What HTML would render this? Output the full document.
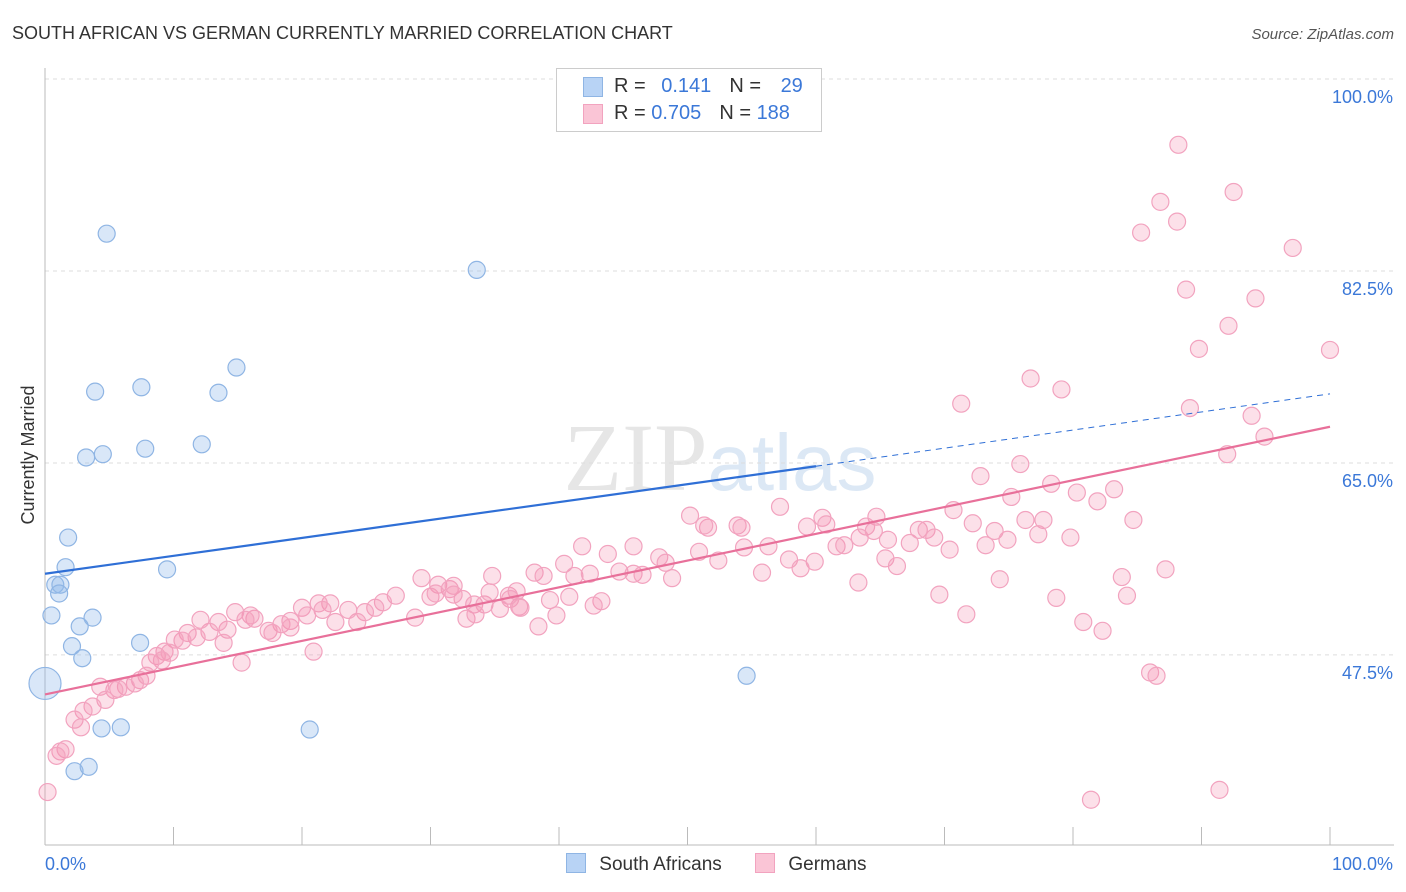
<!DOCTYPE html>
<html><head><meta charset="utf-8"><style>
body{margin:0;background:#fff;font-family:"Liberation Sans",sans-serif;}
#c{position:relative;width:1406px;height:892px;overflow:hidden;}
</style></head><body>
<div id="c">
<svg id="svg" width="1406" height="892" xmlns="http://www.w3.org/2000/svg">
<text x="12" y="39" font-size="18" fill="#333">SOUTH AFRICAN VS GERMAN CURRENTLY MARRIED CORRELATION CHART</text>
<text x="1394" y="39" font-size="15" fill="#555" font-style="italic" text-anchor="end">Source: ZipAtlas.com</text>
<text x="720" y="490" font-size="96" fill="#e6e6e6" text-anchor="middle" font-family="Liberation Serif, serif">ZIP<tspan fill="#dce8f5" font-family="Liberation Sans, sans-serif" font-size="80">atlas</tspan></text>
<text x="34" y="455" font-size="18" fill="#333" text-anchor="middle" transform="rotate(-90 34 455)">Currently Married</text>
<g id="grid"></g><g id="pts"></g><g id="lines"></g>
</svg>
</div>
<script>
const yTicks=[100,82.5,65,47.5];
const yTickLabels=["100.0%","82.5%","65.0%","47.5%"];
const saX=[4.8,33.6,14.9,7.5,3.9,13.5,12.2,7.8,3.2,4.5,1.8,9.5,1.6,0.8,1.2,1.1,0.5,3.7,2.7,7.4,2.1,2.9,0,54.6,4.4,5.9,20.6,2.3,3.4];
const saY=[85.9,82.6,73.7,71.9,71.5,71.4,66.7,66.3,65.5,65.8,58.2,55.3,55.5,53.9,53.9,53.1,51.1,50.9,50.1,48.6,48.3,47.2,44.9,45.6,40.8,40.9,40.7,36.9,37.3];
const deX=[88.2,92.5,86.8,88.1,85.3,97.1,88.8,94.2,92.1,89.8,100,76.7,79.1,71.3,89.1,93.9,94.9,92.0,75.9,72.8,78.3,83.2,80.3,75.2,81.9,57.2,70.7,50.2,60.5,64.7,84.7,76.3,77.7,72.2,51.6,51.3,53.9,54.2,59.3,60.8,63.9,61.6,63.4,62.2,64.5,65.6,67.3,68.0,68.6,69.2,73.9,74.9,77.3,79.8,73.2,70.4,41.8,45.8,54.4,56.3,50.9,43.8,47.8,48.3,52.4,57.9,59.9,65.4,66.3,40.4,38.1,38.8,34.8,41.2,42.4,44.7,45.8,46.5,48.8,55.8,58.8,63.3,74.3,83.8,87.2,84.2,78.7,69.6,71.7,80.8,82.3,29.3,30.6,31.5,31.8,32.5,33.4,34.2,34.6,36.1,36.7,36.9,39.3,40.8,43.3,42.7,36.2,38.4,39.8,32.8,30.0,30.4,27.3,26.3,25.7,24.9,24.3,23.6,22.6,22.2,21.3,21.6,20.0,20.4,19.1,18.4,19.1,17.4,17.7,16.3,16.0,14.8,15.6,14.2,13.5,12.8,13.9,12.1,11.1,11.8,10.7,10.1,9.3,8.7,9.7,9.1,8.2,7.4,7.9,7.0,6.3,5.7,5.4,4.3,4.7,3.7,3.0,2.3,2.8,1.6,1.2,0.9,0.2,15.3,20.9,28.8,81.4,91.4,86.0,86.5,33.5,35.4,37.0,31.8];
const deY=[94.0,89.7,88.8,87.0,86.0,84.6,80.8,80.0,77.5,75.4,75.3,72.7,71.7,70.4,70.0,69.3,67.4,65.8,64.9,63.8,63.1,62.6,62.3,61.9,61.5,61.0,60.7,60.2,60.0,60.1,59.8,59.8,59.8,59.5,59.1,59.3,59.3,59.1,59.2,59.4,59.2,57.4,58.2,57.5,58.8,58.0,57.7,58.9,58.9,58.2,58.8,58.0,58.5,58.2,57.5,57.1,57.4,57.4,57.3,57.4,56.9,56.7,56.4,55.9,56.1,56.2,56.0,56.3,55.6,55.8,55.0,54.7,54.7,54.7,54.9,55.1,54.9,54.8,54.5,55.0,55.4,54.1,54.4,54.6,55.3,52.9,52.7,53.0,51.2,50.5,49.7,54.5,53.9,53.5,53.8,52.6,52.1,52.1,53.2,52.9,53.3,51.9,52.5,52.8,52.4,52.0,52.6,50.1,51.1,50.8,52.8,53.1,52.9,52.3,51.8,51.4,50.5,51.6,50.5,52.2,52.2,51.6,51.8,51.1,50.6,50.3,50.0,49.7,49.5,50.8,51.1,51.4,50.7,49.8,50.5,49.6,48.6,50.7,49.5,49.1,48.8,48.9,47.8,47.4,47.7,47.0,46.8,45.2,45.6,44.9,44.6,44.4,44.3,44.6,43.4,42.8,42.4,41.6,40.9,38.9,38.7,38.3,35.0,46.8,47.8,50.9,34.3,35.2,45.9,45.6,51.2,51.7,51.8,53.0];
const saTrend=[[0,54.9],[60,64.7],[100,71.3]];
const deTrend=[[0,43.9],[100,68.3]];
const NS="http://www.w3.org/2000/svg";
const X=v=>45+v*12.85, Y=v=>79+(100-v)*10.97;
function mk(t,a,p){const e=document.createElementNS(NS,t);for(const k in a)e.setAttribute(k,a[k]);p.appendChild(e);return e;}
const svg=document.getElementById('svg'),grid=document.getElementById('grid'),pts=document.getElementById('pts'),lines=document.getElementById('lines');
yTicks.forEach((t,i)=>{
 const l=mk('line',{x1:45,x2:1394,y1:Y(t),y2:Y(t),stroke:'#ddd','stroke-dasharray':'4,4'},grid);
 
 
 const tx=mk('text',{x:1393,y:Y(t)+24,'font-size':18,fill:'#3b78d8','text-anchor':'end'},grid);tx.textContent=yTickLabels[i];
 
 
});
const ax=mk('line',{x1:45,x2:45,y1:68,y2:845,stroke:'#bbb'},grid);


const bx=mk('line',{x1:45,x2:1394,y1:845,y2:845,stroke:'#bbb'},grid);


for(let i=0;i<=10;i++){const t=mk('line',{x1:X(i*10),x2:X(i*10),y1:827,y2:845,stroke:'#bbb'},grid);
 
 }
[["0.0%",45,"start"],["100.0%",1393,"end"]].forEach(a=>{const t=mk('text',{x:a[1],y:870,'font-size':18,fill:'#3b78d8','text-anchor':a[2]},grid);t.textContent=a[0];
 
 });
deX.forEach((v,i)=>{const c=mk('circle',{cx:X(v),cy:Y(deY[i]),r:8.5,fill:'rgba(244,143,177,0.28)',stroke:'#f2a3bf','stroke-width':1.2},pts);
 
 });
saX.forEach((v,i)=>{const c=mk('circle',{cx:X(v),cy:Y(saY[i]),r:(i==22?16:8.5),fill:'rgba(147,186,234,0.35)',stroke:'#8fb5e4','stroke-width':1.2},pts);
 
 });
let l1=mk('line',{x1:X(saTrend[0][0]),y1:Y(saTrend[0][1]),x2:X(saTrend[1][0]),y2:Y(saTrend[1][1]),stroke:'#2f6fd6','stroke-width':2.2},lines);


let l2=mk('line',{x1:X(saTrend[1][0]),y1:Y(saTrend[1][1]),x2:X(saTrend[2][0]),y2:Y(saTrend[2][1]),stroke:'#2f6fd6','stroke-width':1,'stroke-dasharray':'6,5'},lines);


let l3=mk('line',{x1:X(deTrend[0][0]),y1:Y(deTrend[0][1]),x2:X(deTrend[1][0]),y2:Y(deTrend[1][1]),stroke:'#e8709a','stroke-width':2.2},lines);


</script>
<div style="position:absolute;left:556px;top:68px;width:264px;height:62px;border:1px solid #ccc;background:#fff;font-size:20px;">
 <div style="position:absolute;left:26px;top:8px;width:18px;height:18px;background:#b8d3f5;border:1px solid #8fb5e4;"></div>
 <div style="position:absolute;left:57px;top:6px;color:#333">R = <span style="color:#3b78d8;margin-left:10px">0.141</span><span style="margin-left:18px">N = </span><span style="color:#3b78d8;margin-left:14px">29</span></div>
 <div style="position:absolute;left:26px;top:35px;width:18px;height:18px;background:#fac5d6;border:1px solid #f2a3bf;"></div>
 <div style="position:absolute;left:57px;top:33px;color:#333">R = <span style="color:#3b78d8">0.705</span><span style="margin-left:18px">N = </span><span style="color:#3b78d8">188</span></div>
</div>
<div style="position:absolute;left:566px;top:853px;font-size:19px;color:#333">
 <span style="display:inline-block;width:18px;height:18px;background:#b8d3f5;border:1px solid #8fb5e4;vertical-align:-3px"></span>
 <span style="margin-left:8px">South Africans</span>
 <span style="display:inline-block;width:18px;height:18px;background:#fac5d6;border:1px solid #f2a3bf;vertical-align:-3px;margin-left:28px"></span>
 <span style="margin-left:8px">Germans</span>
</div>
</body></html>
